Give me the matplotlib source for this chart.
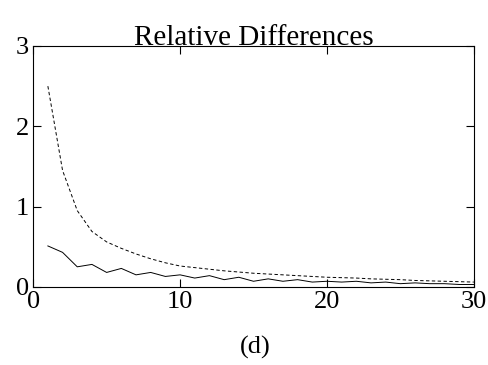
import numpy as np
import matplotlib.pyplot as plt

plt.rcParams['font.family'] = ['Liberation Serif', 'DejaVu Serif']

n = np.arange(1, 31)
dashed = [2.50, 1.45, 0.95, 0.69, 0.56, 0.48, 0.41, 0.35, 0.30, 0.26,
          0.24, 0.22, 0.20, 0.185, 0.17, 0.16, 0.15, 0.14, 0.13, 0.12,
          0.115, 0.11, 0.10, 0.095, 0.09, 0.08, 0.075, 0.07, 0.065, 0.06]
solid = [0.51, 0.43, 0.25, 0.28, 0.18, 0.23, 0.15, 0.18, 0.13, 0.15,
         0.11, 0.14, 0.09, 0.12, 0.07, 0.10, 0.07, 0.09, 0.06, 0.07,
         0.06, 0.07, 0.05, 0.06, 0.04, 0.05, 0.04, 0.04, 0.03, 0.03]

fig = plt.figure(figsize=(4.88, 3.65), dpi=100)
ax = fig.add_axes([0.068, 0.214, 0.903, 0.660])
ax.plot(n, dashed, 'k--', lw=0.7, dashes=(3.5, 2.5))
ax.plot(n, solid, 'k-', lw=0.7)
ax.set_xlim(0, 30)
ax.set_ylim(0, 3)
ax.set_xticks([0, 10, 20, 30])
ax.set_yticks([0, 1, 2, 3])
ax.tick_params(direction='in', top=True, right=True, length=6, width=0.8,
               labelsize=19)
ax.tick_params(axis='x', pad=3)
ax.tick_params(axis='y', pad=3)
for s in ax.spines.values():
    s.set_linewidth(0.8)
ax.set_title('Relative Differences', fontsize=21, pad=1)
fig.text(0.523, 0.03, '(d)', fontsize=19, ha='center')
fig.savefig('out.png')
